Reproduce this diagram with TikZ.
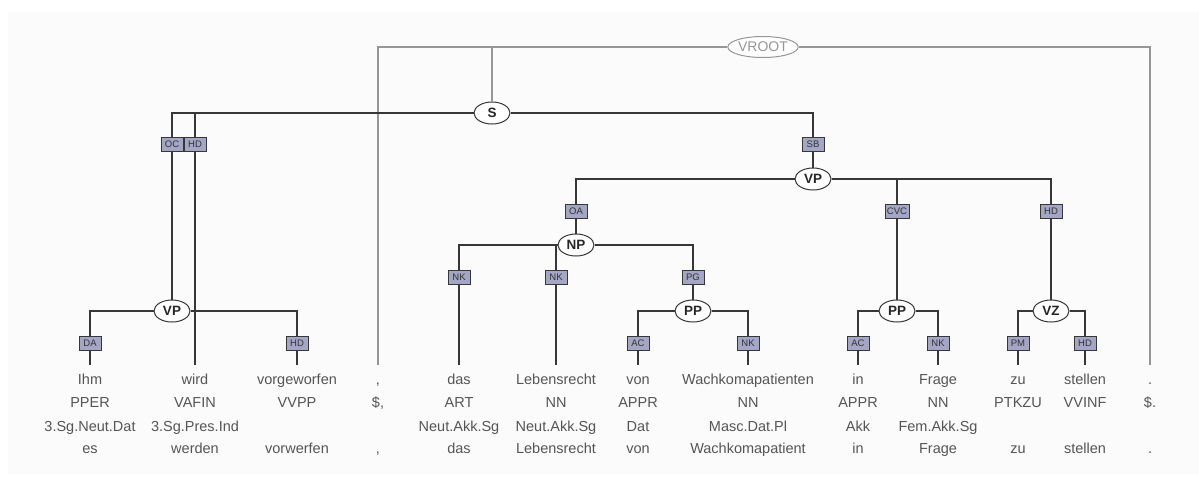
\documentclass[tikz,border=0pt]{standalone}
\usepackage{fontspec}
\setmainfont{Liberation Sans}
\usetikzlibrary{shapes.geometric}
\definecolor{lbl}{RGB}{163,166,196}
\definecolor{edgec}{RGB}{55,55,55}
\definecolor{rootc}{RGB}{150,150,150}
\definecolor{wordc}{RGB}{85,85,85}
\definecolor{panel}{RGB}{251,251,251}
\tikzset{
 cat/.style={ellipse, draw=edgec, line width=1pt, fill=white, minimum width=36pt, minimum height=22pt, inner sep=0pt, font=\fontsize{13.5}{13.5}\selectfont\bfseries, text=black!85},
 rootnode/.style={ellipse, draw=rootc, line width=1pt, fill=white, minimum width=65pt, minimum height=21pt, inner sep=0pt, font=\fontsize{14}{14}\selectfont, text=rootc},
 lab/.style={rectangle, draw=edgec, fill=lbl, line width=0.8pt, minimum width=22pt, minimum height=14pt, inner xsep=2pt, inner ysep=0pt, font=\fontsize{9.5}{10}\selectfont, text=black!80},
 word/.style={anchor=base, inner xsep=0pt, inner ysep=9pt, text height=10pt, text depth=3pt, font=\fontsize{14.5}{15}\selectfont, text=wordc},
 info/.style={anchor=base, inner sep=0pt, font=\fontsize{14.5}{15}\selectfont, text=wordc},
 tedge/.style={draw=edgec, line width=1.1pt},
 redge/.style={draw=rootc, line width=1.1pt},
}
\newcommand\wcol[6]{%
 \node[word] (#1) at (#2,384) {#3};
 \node[info] at (#2,407.5) {#4};
 \node[info] at (#2,431) {#5};
 \node[info] at (#2,453) {#6};
}
\begin{document}
\begin{tikzpicture}[x=1pt,y=-1pt]
\useasboundingbox (0,0) rectangle (1199,480);
\fill[white] (0,0) rectangle (1199,480);
\fill[panel] (8,12) rectangle (1199,474);

% words
\wcol{w1}{90}{Ihm}{PPER}{3.Sg.Neut.Dat}{es}
\wcol{w2}{195}{wird}{VAFIN}{3.Sg.Pres.Ind}{werden}
\wcol{w3}{297}{vorgeworfen}{VVPP}{}{vorwerfen}
\wcol{w4}{378}{,}{\$,}{}{,}
\wcol{w5}{459}{das}{ART}{Neut.Akk.Sg}{das}
\wcol{w6}{556}{Lebensrecht}{NN}{Neut.Akk.Sg}{Lebensrecht}
\wcol{w7}{638}{von}{APPR}{Dat}{von}
\wcol{w8}{748}{Wachkomapatienten}{NN}{Masc.Dat.Pl}{Wachkomapatient}
\wcol{w9}{858}{in}{APPR}{Akk}{in}
\wcol{w10}{938}{Frage}{NN}{Fem.Akk.Sg}{Frage}
\wcol{w11}{1018}{zu}{PTKZU}{}{zu}
\wcol{w12}{1085}{stellen}{VVINF}{}{stellen}
\wcol{w13}{1150}{.}{\$.}{}{.}

% phrase nodes
\node[rootnode] (vroot) at (763,47) {VROOT};
\node[cat] (S) at (492,113) {S};
\node[cat] (vpl) at (172,311) {VP};
\node[cat] (vpr) at (813,179) {VP};
\node[cat] (np) at (576,245) {NP};
\node[cat] (pp1) at (693,311) {PP};
\node[cat] (pp2) at (897,311) {PP};
\node[cat] (vz) at (1051,311) {VZ};

% edge labels
\node[lab] (oc) at (172,144) {OC};
\node[lab] (hdS) at (195,144) {HD};
\node[lab] (sb) at (813,144) {SB};
\node[lab] (oa) at (576,211) {OA};
\node[lab] (cvc) at (897,211) {CVC};
\node[lab] (hdV) at (1051,211) {HD};
\node[lab] (nk1) at (459,277) {NK};
\node[lab] (nk2) at (556,277) {NK};
\node[lab] (pg) at (693,277) {PG};
\node[lab] (da) at (90,343) {DA};
\node[lab] (hdv) at (297,343) {HD};
\node[lab] (ac1) at (638,343) {AC};
\node[lab] (nk3) at (748,343) {NK};
\node[lab] (ac2) at (858,343) {AC};
\node[lab] (nk4) at (938,343) {NK};
\node[lab] (pm) at (1018,343) {PM};
\node[lab] (hdz) at (1085,343) {HD};

% VROOT edges
\draw[redge] (vroot) -| (w4);
\draw[redge] (vroot) -| (w13);
\draw[redge] (vroot) -| (S);

% tree edges
\draw[tedge] (S) -| (oc);  \draw[tedge] (oc) -- (vpl);
\draw[tedge] (S) -| (hdS); \draw[tedge] (hdS) -- (w2);
\draw[tedge] (S) -| (sb);  \draw[tedge] (sb) -- (vpr);
\draw[tedge] (vpr) -| (oa);  \draw[tedge] (oa) -- (np);
\draw[tedge] (vpr) -| (cvc); \draw[tedge] (cvc) -- (pp2);
\draw[tedge] (vpr) -| (hdV); \draw[tedge] (hdV) -- (vz);
\draw[tedge] (np) -| (nk1); \draw[tedge] (nk1) -- (w5);
\draw[tedge] (np) -| (nk2); \draw[tedge] (nk2) -- (w6);
\draw[tedge] (np) -| (pg);  \draw[tedge] (pg) -- (pp1);
\draw[tedge] (pp1) -| (ac1); \draw[tedge] (ac1) -- (w7);
\draw[tedge] (pp1) -| (nk3); \draw[tedge] (nk3) -- (w8);
\draw[tedge] (pp2) -| (ac2); \draw[tedge] (ac2) -- (w9);
\draw[tedge] (pp2) -| (nk4); \draw[tedge] (nk4) -- (w10);
\draw[tedge] (vz) -| (pm);  \draw[tedge] (pm) -- (w11);
\draw[tedge] (vz) -| (hdz); \draw[tedge] (hdz) -- (w12);
\draw[tedge] (vpl) -| (da); \draw[tedge] (da) -- (w1);
\draw[tedge] (vpl) -| (hdv); \draw[tedge] (hdv) -- (w3);
\end{tikzpicture}
\end{document}
